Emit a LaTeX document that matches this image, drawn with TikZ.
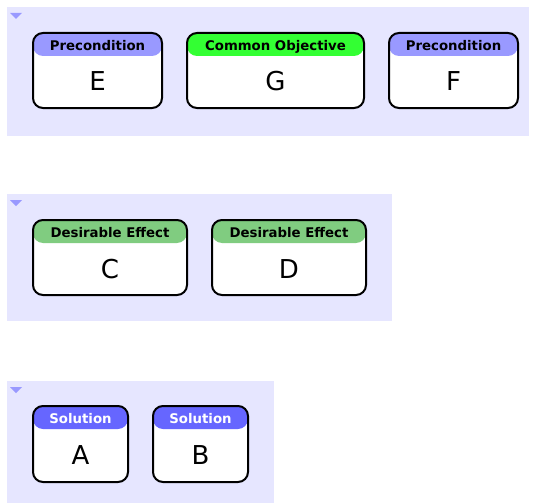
\documentclass[tikz,border=0pt]{standalone}
\usepackage{fontspec}
\setmainfont{DejaVu Sans}
\definecolor{panelbg}{HTML}{E6E6FF}
\definecolor{precol}{HTML}{9999FF}
\definecolor{objcol}{HTML}{33FF33}
\definecolor{effcol}{HTML}{80CC80}
\definecolor{solcol}{HTML}{6666FF}
\definecolor{tricol}{HTML}{9999FF}
\tikzset{
  panel/.style={fill=panelbg},
  fold/.style={fill=tricol},
  tocframe/.style={draw=black, line width=2pt, rounded corners=10pt, fill=white, inner sep=0pt},
  hdr/.style={path picture={\fill[#1] (path picture bounding box.north west) rectangle ([yshift=-23pt]path picture bounding box.north east);}},
  hdrtext/.style={font=\fontsize{13.3}{15}\selectfont\bfseries, inner sep=0pt},
  lettertext/.style={font=\fontsize{26}{29}\selectfont, inner sep=0pt}
}
\newcommand\tocbox[9]{%
  \node[tocframe, minimum width={#4-#2}, minimum height={#5-#3}, hdr=#6] (#1) at ({(#2+#4)/2},{(#3+#5)/2}) {};
  \node[hdrtext, text=#8, anchor=base] (#1h) at ({(#2+#4)/2},{#3+17.3}) {#7};
  \node[lettertext, anchor=base] (#1l) at ({(#2+#4)/2},{#3+58}) {#9};
}
\begin{document}
\begin{tikzpicture}[x=1pt,y=-1pt]
\useasboundingbox (0,0) rectangle (533,503);
% panels
\fill[panel] (7,7) rectangle (529,136);
\fill[panel] (7,194) rectangle (392,321);
\fill[panel] (7,381) rectangle (274,503);
% fold triangles
\fill[fold] (10,13) -- (22,13) -- (16,19) -- cycle;
\fill[fold] (10,200) -- (22,200) -- (16,206) -- cycle;
\fill[fold] (10,387) -- (22,387) -- (16,393) -- cycle;
% boxes
\tocbox{E}{33}{33}{162}{108}{precol}{Precondition}{black}{E}
\tocbox{G}{187}{33}{364}{108}{objcol}{Common Objective}{black}{G}
\tocbox{F}{389}{33}{518}{108}{precol}{Precondition}{black}{F}
\tocbox{C}{33}{220}{187}{295}{effcol}{Desirable Effect}{black}{C}
\tocbox{D}{212}{220}{366}{295}{effcol}{Desirable Effect}{black}{D}
\tocbox{A}{33}{406}{128}{482}{solcol}{Solution}{white}{A}
\tocbox{B}{153}{406}{248}{482}{solcol}{Solution}{white}{B}
\end{tikzpicture}
\end{document}
